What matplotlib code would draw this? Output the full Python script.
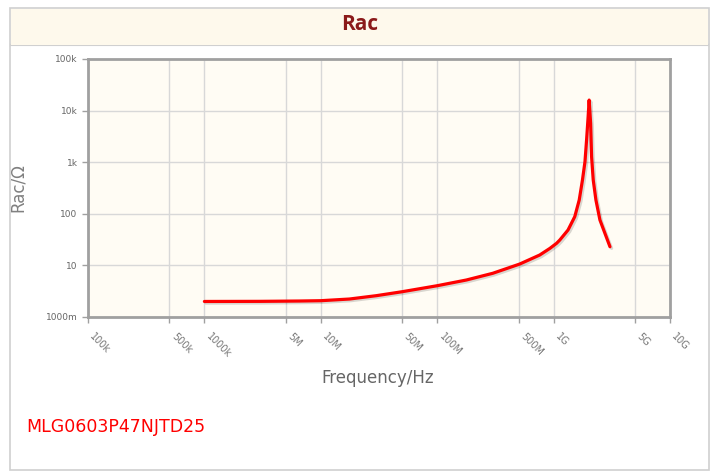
"""Rac vs frequency chart for MLG0603P47NJTD25."""
import matplotlib
matplotlib.use("Agg")
import matplotlib.pyplot as plt
from matplotlib.patches import Rectangle
from matplotlib import patheffects as pe

# data
freq_hz = [1e6, 3e6, 6.5e6, 1e7, 1.76e7, 3e7, 5e7, 1e8, 1.78e8, 3e8,
           5.1e8, 7.6e8, 9.3e8, 1.06e9, 1.13e9, 1.33e9, 1.52e9, 1.66e9,
           1.77e9, 1.86e9, 1.92e9, 1.98e9, 2.02e9, 2.08e9, 2.12e9,
           2.19e9, 2.31e9, 2.5e9, 2.76e9, 3.05e9]
rac_ohm = [2.0, 2.01, 2.04, 2.07, 2.23, 2.59, 3.09, 4.04, 5.21, 7.03,
           10.6, 15.9, 21.4, 26.8, 31, 48.5, 88, 185,
           452, 1020, 2690, 7600, 16000, 5670, 1280,
           452, 185, 76, 41.9, 23]

x_ticks = [1e5, 5e5, 1e6, 5e6, 1e7, 5e7, 1e8, 5e8, 1e9, 5e9, 1e10]
x_labels = ["100k", "500k", "1000k", "5M", "10M", "50M", "100M",
            "500M", "1G", "5G", "10G"]
y_ticks = [1, 10, 100, 1e3, 1e4, 1e5]
y_labels = ["1000m", "10", "100", "1k", "10k", "100k"]

W, H = 717, 476
fig = plt.figure(figsize=(W / 100, H / 100), dpi=100)
fig.patch.set_facecolor("white")


def px(x, y):
    return x / W, 1 - y / H


# outer frame and header band
fig.patches.append(Rectangle(px(10, 470), 699 / W, 462 / H,
                             transform=fig.transFigure, facecolor="white",
                             edgecolor="#cfcfcf", lw=1.2, zorder=-2))
fig.patches.append(Rectangle(px(11, 45), 697 / W, 36 / H,
                             transform=fig.transFigure, facecolor="#fef9ec",
                             edgecolor="none", zorder=-1))
fig.lines.append(plt.Line2D([11 / W, 708 / W], [1 - 45 / H] * 2,
                            transform=fig.transFigure, color="#d0d0d0",
                            lw=1.5, zorder=-1))
fig.text(*px(360, 25), "Rac", ha="center", va="center", fontsize=15,
         fontweight="bold", color="#8b1a1a", family="Open Sans")

l, b = px(88, 317)
ax = fig.add_axes([l, b, (670 - 88) / W, (317 - 59) / H])
ax.set_zorder(5)
ax.set_facecolor("#fffcf4")
ax.plot(freq_hz, rac_ohm, color="#ff0000", lw=2.3, solid_capstyle="round",
        solid_joinstyle="round",
        path_effects=[pe.SimpleLineShadow(offset=(1.2, -1.2), alpha=0.15),
                      pe.Normal()])
ax.set_xscale("log")
ax.set_yscale("log")
ax.set_xlim(1e5, 1e10)
ax.set_ylim(1, 1e5)
ax.set_xticks(x_ticks)
ax.set_xticklabels(x_labels, rotation=-45, ha="left", va="top",
                   fontsize=7, color="#777777")
ax.set_yticks(y_ticks)
ax.set_yticklabels(y_labels, fontsize=6.5, color="#666666")
ax.minorticks_off()
ax.tick_params(axis="both", length=4, width=1, color="#a0a0a0")
ax.tick_params(axis="x", pad=6)
ax.grid(True, color="#d8d8d8", lw=1)
for s in ax.spines.values():
    s.set_color("#a0a0a0")
    s.set_linewidth(2)

fig.text(*px(18, 188), "Rac/\u03a9", rotation=90, ha="center", va="center",
         fontsize=12, color="#808080")
fig.text(*px(378, 378), "Frequency/Hz", ha="center", va="center",
         fontsize=12, color="#666666")
fig.text(*px(26, 427), "MLG0603P47NJTD25", ha="left", va="center",
         fontsize=12.5, color="#ff0000")

fig.savefig("out.png", dpi=100)
